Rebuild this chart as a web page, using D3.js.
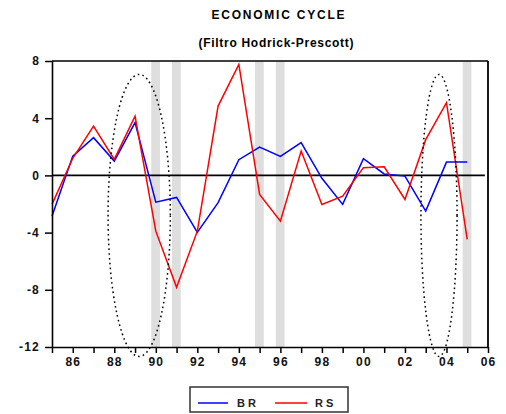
<!DOCTYPE html>
<html>
<head>
<meta charset="utf-8">
<script src="https://cdn.jsdelivr.net/npm/d3@7"></script>
<style>
  html, body { margin: 0; padding: 0; background: #fff; }
  svg { display: block; }
  text { font-family: "Liberation Sans", Arial, sans-serif; }
</style>
</head>
<body>
<svg id="chart" width="506" height="414"></svg>
<script>
// ---- data ----
const years = [1985,1986,1987,1988,1989,1990,1991,1992,1993,1994,1995,1996,1997,1998,1999,2000,2001,2002,2003,2004,2005];
const brValues = [-2.85,1.35,2.64,1.0,3.69,-1.87,-1.54,-3.99,-1.9,1.1,1.98,1.33,2.29,-0.2,-2.03,1.17,0.1,-0.05,-2.5,0.93,0.93];
const rsValues = [-2.03,1.2,3.45,1.12,4.15,-3.9,-7.83,-3.9,4.85,7.76,-1.33,-3.2,1.7,-2.03,-1.45,0.54,0.6,-1.68,2.5,5.08,-4.48];
const shadedYears = [1990, 1991, 1995, 1996, 2005];
const yTicks = [-12, -8, -4, 0, 4, 8];
const xTickYears = d3.range(1985, 2007);
const xLabelYears = [1986,1988,1990,1992,1994,1996,1998,2000,2002,2004,2006];
const xLabels = ["86","88","90","92","94","96","98","00","02","04","06"];
// annotation ellipses: [centerYear, centerValue, radiusYears, radiusValue]
const ellipses = [[1989.2, -2.8, 1.5, 9.86], [2003.64, -2.8, 0.87, 9.86]];
const seriesNames = ["BR", "RS"];
const seriesColors = ["#0000ff", "#ff0000"];
const titleLines = ["ECONOMIC CYCLE", "(Filtro Hodrick-Prescott)"];

// ---- layout ----
const svg = d3.select("#chart");
const L = 52, R = 488, T = 61, B = 347;
const x = d3.scaleLinear().domain([1985, 2006]).range([L, R]);
const y = d3.scaleLinear().domain([-12, 8]).range([B, T]);

// shaded bars
svg.append("g").selectAll("rect").data(shadedYears).join("rect")
  .attr("x", d => x(d - 0.22))
  .attr("width", d => x(d + 0.2) - x(d - 0.22))
  .attr("y", T).attr("height", B - T)
  .attr("fill", "#dedede");

// zero line
svg.append("line")
  .attr("x1", x(1985)).attr("x2", x(2005.85))
  .attr("y1", y(0)).attr("y2", y(0))
  .attr("stroke", "#000").attr("stroke-width", 1.6);

// series
const line = d3.line().x((d, i) => x(years[i])).y(d => y(d));
[brValues, rsValues].forEach((vals, k) => {
  svg.append("path").datum(vals)
    .attr("d", line)
    .attr("fill", "none")
    .attr("stroke", seriesColors[k])
    .attr("stroke-width", 1.5);
});

// frame (top, right)
svg.append("line").attr("x1", L).attr("x2", R).attr("y1", T).attr("y2", T)
  .attr("stroke", "#000").attr("stroke-width", 1.6);
svg.append("line").attr("x1", R).attr("x2", R).attr("y1", T).attr("y2", B)
  .attr("stroke", "#000").attr("stroke-width", 1.8);

// axes
const yAxis = svg.append("g").attr("transform", `translate(${L},0)`)
  .call(d3.axisLeft(y).tickValues(yTicks).tickSize(7).tickPadding(5)
    .tickFormat(d => d < 0 ? "-" + Math.abs(d) : d));
const xAxis = svg.append("g").attr("transform", `translate(0,${B})`)
  .call(d3.axisBottom(x).tickValues(xTickYears).tickSize(6).tickPadding(4)
    .tickFormat(d => { const i = xLabelYears.indexOf(d); return i >= 0 ? xLabels[i] : ""; }));
[yAxis, xAxis].forEach(g => {
  g.select(".domain").attr("stroke", "#000").attr("stroke-width", 1.6);
  g.selectAll(".tick line").attr("stroke", "#000").attr("stroke-width", 1.5);
  g.selectAll(".tick text").attr("fill", "#111")
    .style("font-size", "12px").style("font-weight", "bold").style("letter-spacing", "1.2px")
    .style("font-family", "'Liberation Sans', Arial, sans-serif");
});
yAxis.select(".domain").attr("d", `M0.5,${T}V${B}`);
xAxis.select(".domain").attr("d", `M${L},0.5H${R}`);

// dotted ellipses
svg.append("g").selectAll("ellipse").data(ellipses).join("ellipse")
  .attr("cx", d => x(d[0]))
  .attr("cy", d => y(d[1]))
  .attr("rx", d => x(d[0] + d[2]) - x(d[0]))
  .attr("ry", d => y(d[1] - d[3]) - y(d[1]))
  .attr("fill", "none")
  .attr("stroke", "#000")
  .attr("stroke-width", 1.5)
  .attr("stroke-dasharray", "1.6,3.2");

// title
svg.append("text").attr("x", 278).attr("y", 19).attr("text-anchor", "middle")
  .style("font-size", "12px").style("font-weight", "bold")
  .attr("textLength", 133).attr("lengthAdjust", "spacing")
  .text(titleLines[0]);
svg.append("text").attr("x", 276).attr("y", 47).attr("text-anchor", "middle")
  .style("font-size", "12px").style("font-weight", "bold")
  .attr("textLength", 155).attr("lengthAdjust", "spacing")
  .text(titleLines[1]);

// legend
const lg = svg.append("g");
lg.append("rect").attr("x", 190).attr("y", 387).attr("width", 158).attr("height", 25)
  .attr("fill", "#fff").attr("stroke", "#333").attr("stroke-width", 1.5);
const legendX = [[198, 228, 237], [275, 307, 315]];
seriesNames.forEach((name, k) => {
  lg.append("line").attr("x1", legendX[k][0]).attr("x2", legendX[k][1])
    .attr("y1", 403).attr("y2", 403)
    .attr("stroke", seriesColors[k]).attr("stroke-width", 1.5);
  lg.append("text").attr("x", legendX[k][2]).attr("y", 407)
    .style("font-size", "11px").style("font-weight", "bold").style("letter-spacing", "3px")
    .attr("fill", "#222")
    .text(name);
});
</script>
</body>
</html>
